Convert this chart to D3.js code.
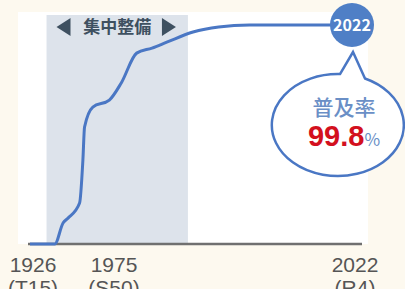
<!DOCTYPE html>
<html>
<meta charset="utf-8">
<title>普及率</title>
<style>
    body { margin: 0; background: #fdf9ef; }
    svg { display: block; }
    text { font-family: "Noto Sans CJK JP", "Noto Sans", sans-serif; }
    .tick { font-family: "Liberation Sans", Arial, sans-serif; font-size: 21px; fill: #555; }
    .line { fill: none; stroke: #4a77c4; stroke-width: 3px; stroke-linejoin: round; }
</style>
<script src="https://cdn.jsdelivr.net/npm/d3@7/dist/d3.min.js"></script>
<body>
<script>
    // data
    const years = [1926, 1941, 1946, 1949, 1956, 1958, 1959, 1964, 1974, 1977, 1980, 1983, 1986, 1991, 1996, 2002, 2022]
    const rates = [0, 0, 9.6, 11.8, 18.7, 38.3, 53.3, 62.4, 65.6, 73.4, 87.0, 89.3, 92.1, 96.6, 98.9, 99.8, 99.8]
    const tickYears = [1926, 1975, 2022]
    const tickEras = ["(T15)", "(S50)", "(R4)"]
    const period = [1936, 1990]   // 集中整備
    const finalRate = 99.8

    const width = 405, height = 289

    const svg = d3.select("body").append("svg")
        .attr("width", width).attr("height", height)

    // the axis is not even: the early years are squeezed
    const x = d3.scaleLinear().domain(tickYears).range([30, 111, 352])
    const y = d3.scaleLinear().domain([0, 100]).range([244, 24.6])

    // white plot panel
    svg.append("rect")
        .attr("x", 18).attr("y", 12)
        .attr("width", 350).attr("height", 232)
        .attr("fill", "#fff")

    // shaded period
    svg.append("rect")
        .attr("x", x(period[0])).attr("y", 15)
        .attr("width", x(period[1]) - x(period[0]))
        .attr("height", y(0) - 15)
        .attr("fill", "#dde3eb")

    let mid = (x(period[0]) + x(period[1])) / 2
    svg.append("text")
        .attr("x", mid).attr("y", 33)
        .attr("text-anchor", "middle")
        .attr("font-size", 17).attr("font-weight", "bold")
        .attr("fill", "#3e5060")
        .text("集中整備")
    svg.append("path")
        .attr("d", `M${x(period[0]) + 10},27 L${x(period[0]) + 24},18 L${x(period[0]) + 24},36 Z`)
        .attr("fill", "#3e5060")
    svg.append("path")
        .attr("d", `M${x(period[1]) - 12},27 L${x(period[1]) - 26},18 L${x(period[1]) - 26},36 Z`)
        .attr("fill", "#3e5060")

    // x axis line
    svg.append("line")
        .attr("x1", x(1926) - 2).attr("x2", x(2022) + 10)
        .attr("y1", y(0)).attr("y2", y(0))
        .attr("stroke", "#707070").attr("stroke-width", 2.5)

    const pts = years.map((d, i) => [d, rates[i]])
    const line = d3.line()
        .curve(d3.curveMonotoneX)
        .x(d => x(d[0]))
        .y(d => y(d[1]))
    svg.append("path")
        .datum(pts)
        .attr("class", "line")
        .attr("d", line)

    // tick labels
    const ticks = svg.selectAll(".tick")
        .data(tickYears)
        .enter().append("text")
        .attr("class", "tick")
        .attr("text-anchor", "middle")
        .attr("x", d => x(d) + 3)
        .attr("y", 272)
    ticks.append("tspan").text(d => d)
    ticks.append("tspan")
        .attr("x", d => x(d) + 3).attr("dy", 23)
        .text((d, i) => tickEras[i])

    // end marker
    const cx = x(2022), cy = y(finalRate)
    svg.append("circle")
        .attr("cx", cx).attr("cy", cy).attr("r", 22)
        .attr("fill", "#4f7fc6")
    svg.append("text")
        .attr("x", cx).attr("y", cy + 6)
        .attr("text-anchor", "middle")
        .attr("font-size", 16).attr("font-weight", "bold")
        .attr("fill", "#fff")
        .text("2022")

    // speech bubble
    const bx = cx - 14, by = cy + 100
    svg.append("path")
        .attr("d", `M${bx + 2},${by - 51} L${cx + 1},${cy + 27} L${bx + 27},${by - 46.5} A66 51 0 1 1 ${bx + 2} ${by - 51} Z`)
        .attr("fill", "#fff")
        .attr("stroke", "#4a77c4").attr("stroke-width", 2.5)
    svg.append("text")
        .attr("x", bx + 6).attr("y", by - 10)
        .attr("text-anchor", "middle")
        .attr("font-size", 21).attr("font-weight", 500)
        .attr("fill", "#6a8fc6")
        .text("普及率")
    const pct = svg.append("text")
        .attr("x", bx + 6).attr("y", by + 21)
        .attr("text-anchor", "middle")
    pct.append("tspan")
        .attr("font-family", "Liberation Sans, Arial, sans-serif")
        .attr("font-size", 29).attr("font-weight", "bold")
        .attr("fill", "#d3101e")
        .text(finalRate.toFixed(1))
    pct.append("tspan")
        .attr("font-size", 17)
        .attr("fill", "#6a8fc6")
        .text("%")
</script>
</body>
</html>
